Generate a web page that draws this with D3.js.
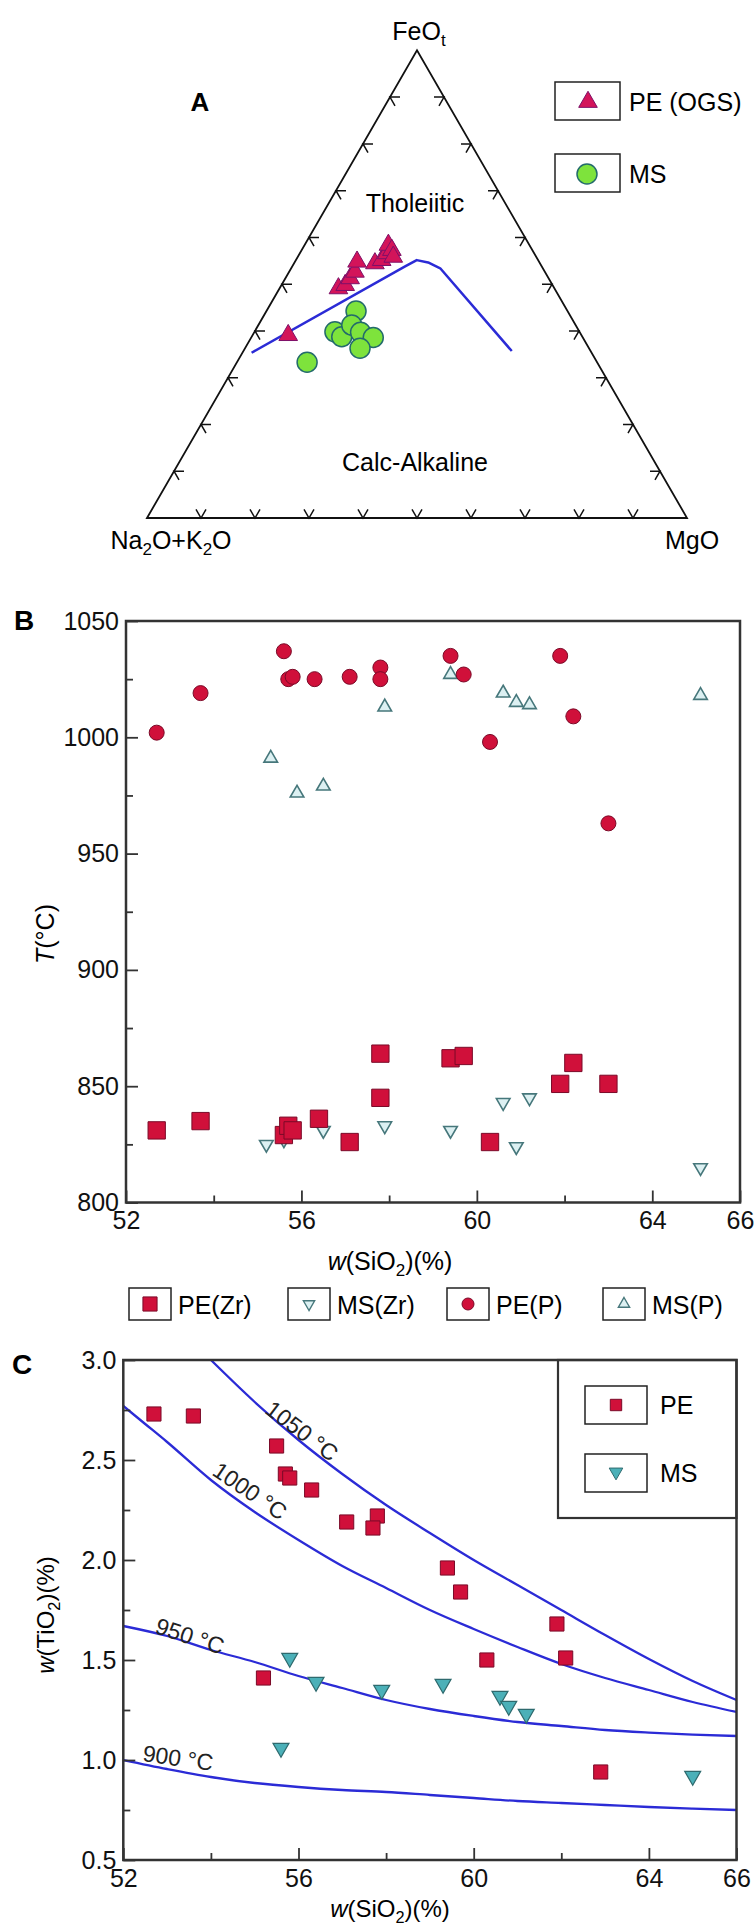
<!DOCTYPE html>
<html>
<head>
<meta charset="utf-8">
<script src="https://cdn.jsdelivr.net/npm/d3@7"></script>
<style>
body { margin: 0; background: #fff; }
svg { display: block; font-family: "Liberation Sans", Arial, sans-serif; }
</style>
</head>
<body>
<div id="app"></div>
<script>
// ---- panel A : AFM ternary, values as [A, F, M] in %
const afmPE = [
	[54.3, 39.1, 6.6], [40.0, 49.1, 10.9], [38.4, 49.8, 11.8], [36.8, 51.3, 12.0],
	[35.2, 52.7, 12.2], [33.7, 54.8, 11.5], [30.6, 54.5, 15.0], [29.0, 55.2, 15.9],
	[27.3, 56.6, 16.1], [26.1, 58.4, 15.5], [26.0, 57.3, 16.7], [26.5, 55.9, 17.7]
];
const afmMS = [
	[39.2, 44.3, 16.6], [45.3, 39.8, 14.9], [44.6, 38.8, 16.7], [41.5, 41.3, 17.3],
	[40.6, 39.7, 19.7], [38.8, 38.6, 22.6], [42.4, 36.3, 21.3], [53.7, 33.3, 13.0]
];
// tholeiitic / calc-alkaline divide
const afmDivide = [[62.9, 35.3, 1.7], [25.3, 53.8, 20.9], [22.5, 55.2, 22.4], [20.6, 54.6, 24.7],
	[19.0, 53.4, 27.6], [14.6, 35.7, 49.7]];

// ---- panel B : T (°C) vs SiO2 (%)
const peZr = [[52.7, 831], [53.7, 835], [55.6, 829], [55.7, 833], [55.8, 831], [56.4, 836], [57.1, 826],
	[57.8, 845], [57.8, 864], [59.4, 862], [59.7, 863], [60.3, 826], [61.9, 851], [62.2, 860], [63.0, 851]];
const msZr = [[55.2, 825], [55.6, 827], [56.5, 831], [57.9, 833], [59.4, 831], [60.6, 843], [60.9, 824],
	[61.2, 845], [65.1, 815]];
const peP = [[52.7, 1002], [53.7, 1019], [55.6, 1037], [55.7, 1025], [55.8, 1026], [56.3, 1025], [57.1, 1026],
	[57.8, 1030], [57.8, 1025], [59.4, 1035], [59.7, 1027], [60.3, 998], [61.9, 1035], [62.2, 1009], [63.0, 963]];
const msP = [[55.3, 991], [55.9, 976], [56.5, 979], [57.9, 1013], [59.4, 1027], [60.6, 1019], [60.9, 1015],
	[61.2, 1014], [65.1, 1018]];
const tTicks = [800, 850, 900, 950, 1000, 1050];
const tMinor = [825, 875, 925, 975, 1025];
const siTicks = [52, 56, 60, 64, 66];
const siMinor = [54, 58, 62];

// ---- panel C : TiO2 vs SiO2 (%)
const tiPE = [[52.7, 2.73], [53.6, 2.72], [55.5, 2.57], [55.7, 2.43], [55.8, 2.41], [56.3, 2.35], [57.1, 2.19],
	[57.8, 2.22], [57.7, 2.16], [59.4, 1.96], [59.7, 1.84], [61.9, 1.68], [60.3, 1.50], [62.1, 1.51],
	[55.2, 1.41], [62.9, 0.94]];
const tiMS = [[55.8, 1.51], [56.4, 1.39], [57.9, 1.35], [59.3, 1.38], [60.6, 1.32], [60.8, 1.27], [61.2, 1.23],
	[55.6, 1.06], [65.0, 0.92]];
const iso1050 = [[54.0, 3.0], [55, 2.79], [56, 2.60], [57, 2.43], [58, 2.275], [59, 2.135], [60, 2.00],
	[61, 1.875], [62, 1.75], [63, 1.625], [64, 1.505], [65, 1.395], [66, 1.30]];
const iso1000 = [[52, 2.77], [52.5, 2.68], [53, 2.59], [54, 2.40], [55, 2.24], [56, 2.10], [57, 1.97],
	[58, 1.86], [59, 1.75], [60, 1.655], [61, 1.565], [62, 1.48], [63, 1.41], [64, 1.35], [65, 1.29], [66, 1.24]];
const iso950 = [[52, 1.67], [53, 1.62], [54, 1.55], [55, 1.49], [56, 1.42], [57, 1.36], [58, 1.30],
	[59, 1.255], [60, 1.22], [61, 1.19], [62, 1.17], [63, 1.15], [64, 1.137], [65, 1.127], [66, 1.12]];
const iso900 = [[52, 1.0], [53, 0.955], [54, 0.915], [55, 0.885], [56, 0.865], [57, 0.85], [58, 0.84],
	[59, 0.825], [60, 0.81], [61, 0.795], [62, 0.785], [63, 0.775], [64, 0.765], [65, 0.757], [66, 0.75]];
const tiTicks = [0.5, 1.0, 1.5, 2.0, 2.5, 3.0];
const tiMinor = [0.75, 1.25, 1.75, 2.25, 2.75];

const RED = '#d0103a', RED_DARK = '#7a0a28',
	BLUE = '#2b2bd6',
	FRAME = '#333';

const svg = d3.select('#app').append('svg')
	.attr('width', 756)
	.attr('height', 1929);

// write text with subscripts: parts = [[text, isSub, isItalic], ...]
function richText (g, x, y, parts, size, anchor) {
	const t = g.append('text')
		.attr('x', x).attr('y', y)
		.attr('font-size', size)
		.attr('text-anchor', anchor || 'middle');
	let sub = false;
	parts.forEach(p => {
		const s = t.append('tspan').text(p[0]);
		if (p[1] && !sub) s.attr('dy', size * 0.25).attr('font-size', size * 0.68);
		else if (!p[1] && sub) s.attr('dy', -size * 0.25);
		else if (p[1]) s.attr('font-size', size * 0.68);
		if (p[2]) s.attr('font-style', 'italic');
		sub = !!p[1];
	});
	return t;
}

/* ---------------- panel A ---------------- */
const gA = svg.append('g');
const triL = 147, triR = 687, triBase = 518;
const triH = (triR - triL) * Math.sqrt(3) / 2;
const tx = d3.scaleLinear().domain([0, 1]).range([triL, triR]);
const ty = d3.scaleLinear().domain([0, 1]).range([triBase, triBase - triH]);
function tern (d) {
	const s = d[0] + d[1] + d[2];
	const f = d[1] / s, m = d[2] / s;
	return [tx(m + f / 2), ty(f)];
}

gA.append('path')
	.attr('d', d3.line()([tern([100, 0, 0]), tern([0, 100, 0]), tern([0, 0, 100])]) + 'Z')
	.attr('fill', 'none')
	.attr('stroke', '#111')
	.attr('stroke-width', 1.8);

// chevron ticks, arms parallel to the other two sides
const TICK = 10;
const c60 = Math.cos(Math.PI / 3), s60 = Math.sin(Math.PI / 3);
const tickSets = [
	{ pt: i => [100 - i, 0, i], arms: [[c60, -s60], [-c60, -s60]] },   // base
	{ pt: i => [100 - i, i, 0], arms: [[1, 0], [c60, s60]] },          // left side
	{ pt: i => [0, i, 100 - i], arms: [[-1, 0], [-c60, s60]] }         // right side
];
tickSets.forEach(ts => {
	d3.range(10, 100, 10).forEach(i => {
		const p = tern(ts.pt(i));
		gA.append('path')
			.attr('d', d3.line()([
				[p[0] + ts.arms[0][0] * TICK, p[1] + ts.arms[0][1] * TICK],
				p,
				[p[0] + ts.arms[1][0] * TICK, p[1] + ts.arms[1][1] * TICK]
			]))
			.attr('fill', 'none')
			.attr('stroke', '#111')
			.attr('stroke-width', 1.5);
	});
});

gA.append('path')
	.attr('d', d3.line()(afmDivide.map(tern)))
	.attr('fill', 'none')
	.attr('stroke', BLUE)
	.attr('stroke-width', 2.5)
	.attr('stroke-linejoin', 'round');

const triSym = d3.symbol(d3.symbolTriangle, 150);
gA.selectAll('.pe').data(afmPE).enter().append('path')
	.attr('d', triSym)
	.attr('transform', d => `translate(${tern(d)})`)
	.attr('fill', '#d3145a')
	.attr('stroke', '#7e1068')
	.attr('stroke-width', 1);

gA.selectAll('.ms').data(afmMS).enter().append('circle')
	.attr('cx', d => tern(d)[0])
	.attr('cy', d => tern(d)[1])
	.attr('r', 10)
	.attr('fill', '#7ee33c')
	.attr('stroke', '#236b6b')
	.attr('stroke-width', 1.5);

richText(gA, 419, 40, [['FeO', 0], ['t', 1]], 25);
richText(gA, 171, 549, [['Na', 0], ['2', 1], ['O+K', 0], ['2', 1], ['O', 0]], 25);
gA.append('text').attr('x', 692).attr('y', 549).attr('font-size', 25).attr('text-anchor', 'middle').text('MgO');
gA.append('text').attr('x', 200).attr('y', 111).attr('font-size', 26).attr('font-weight', 'bold')
	.attr('text-anchor', 'middle').text('A');
gA.append('text').attr('x', 415).attr('y', 212).attr('font-size', 25).attr('text-anchor', 'middle').text('Tholeiitic');
gA.append('text').attr('x', 415).attr('y', 471).attr('font-size', 25).attr('text-anchor', 'middle').text('Calc-Alkaline');

// legend A
[[82, 'PE (OGS)'], [154, 'MS']].forEach((d, i) => {
	gA.append('rect').attr('x', 555).attr('y', d[0]).attr('width', 65).attr('height', 38)
		.attr('fill', '#fff').attr('stroke', '#222').attr('stroke-width', 1.5);
	gA.append('text').attr('x', 629).attr('y', d[0] + 29).attr('font-size', 25).text(d[1]);
	if (i === 0) {
		gA.append('path').attr('d', triSym).attr('transform', `translate(588,${d[0] + 20})`)
			.attr('fill', '#d3145a').attr('stroke', '#7e1068');
	} else {
		gA.append('circle').attr('cx', 587).attr('cy', d[0] + 20).attr('r', 10)
			.attr('fill', '#7ee33c').attr('stroke', '#236b6b').attr('stroke-width', 1.5);
	}
});

/* ---------------- shared axis helper ---------------- */
function frameAxes (g, x, y, yMajor, yMinor, fmtY) {
	const [x0, x1] = x.range();
	const [y0, y1] = y.range();
	g.append('g').attr('transform', `translate(${x0},0)`)
		.call(d3.axisLeft(y).tickValues(yMajor).tickSize(-12).tickPadding(7).tickFormat(fmtY));
	g.append('g').attr('transform', `translate(${x0},0)`)
		.call(d3.axisLeft(y).tickValues(yMinor).tickSize(-7).tickFormat(''));
	g.append('g').attr('transform', `translate(0,${y0})`)
		.call(d3.axisBottom(x).tickValues(siTicks).tickSize(-12).tickPadding(9).tickFormat(d3.format('d')));
	g.append('g').attr('transform', `translate(0,${y0})`)
		.call(d3.axisBottom(x).tickValues(siMinor).tickSize(-7).tickFormat(''));
	g.selectAll('.domain').remove();
	g.selectAll('.tick line').attr('stroke', FRAME).attr('stroke-width', 1.8);
	g.selectAll('.tick text')
		.attr('font-size', 25)
		.attr('font-family', '"Liberation Sans", Arial, sans-serif')
		.attr('fill', '#111');
	g.append('rect')
		.attr('x', x0).attr('y', y1)
		.attr('width', x1 - x0).attr('height', y0 - y1)
		.attr('fill', 'none')
		.attr('stroke', FRAME)
		.attr('stroke-width', 2.5);
}

/* ---------------- panel B ---------------- */
const gB = svg.append('g');
const bx = d3.scaleLinear().domain([52, 66]).range([126, 740]);
const by = d3.scaleLinear().domain([800, 1050]).range([1202.5, 621]);
frameAxes(gB, bx, by, tTicks, tMinor, d3.format('d'));

const upTri = d3.symbol(d3.symbolTriangle, 80);
const downTri = d3.symbol(d3.symbolTriangle, 80);
const sq = d3.symbol(d3.symbolSquare, 300);

gB.selectAll('.mszr').data(msZr).enter().append('path')
	.attr('d', downTri)
	.attr('transform', d => `translate(${bx(d[0])},${by(d[1])}) rotate(180)`)
	.attr('fill', '#dcf0f2').attr('stroke', '#46777b').attr('stroke-width', 1.6);
gB.selectAll('.msp').data(msP).enter().append('path')
	.attr('d', upTri)
	.attr('transform', d => `translate(${bx(d[0])},${by(d[1])})`)
	.attr('fill', '#dcf0f2').attr('stroke', '#46777b').attr('stroke-width', 1.6);
gB.selectAll('.pezr').data(peZr).enter().append('path')
	.attr('d', sq)
	.attr('transform', d => `translate(${bx(d[0])},${by(d[1])})`)
	.attr('fill', RED).attr('stroke', RED_DARK).attr('stroke-width', 1);
gB.selectAll('.pep').data(peP).enter().append('circle')
	.attr('cx', d => bx(d[0])).attr('cy', d => by(d[1])).attr('r', 7.5)
	.attr('fill', RED).attr('stroke', RED_DARK).attr('stroke-width', 1);

gB.append('text').attr('x', 24).attr('y', 630).attr('font-size', 28).attr('font-weight', 'bold')
	.attr('text-anchor', 'middle').text('B');
richText(gB, 0, 0, [['T', 0, 1], ['(°C)', 0]], 25)
	.attr('transform', 'translate(54,934) rotate(-90)');
richText(gB, 390, 1270, [['w', 0, 1], ['(SiO', 0], ['2', 1], [')(%)', 0]], 25);

// legend B
const legB = [
	{ x: 129, label: 'PE(Zr)', kind: 'sq' },
	{ x: 288, label: 'MS(Zr)', kind: 'down' },
	{ x: 447, label: 'PE(P)', kind: 'circ' },
	{ x: 603, label: 'MS(P)', kind: 'up' }
];
legB.forEach(d => {
	gB.append('rect').attr('x', d.x).attr('y', 1288).attr('width', 42).attr('height', 32)
		.attr('fill', '#fff').attr('stroke', '#222').attr('stroke-width', 1.5);
	gB.append('text').attr('x', d.x + 49).attr('y', 1314).attr('font-size', 25).text(d.label);
	const cx = d.x + 21, cy = 1304;
	if (d.kind === 'sq') {
		gB.append('path').attr('d', d3.symbol(d3.symbolSquare, 200))
			.attr('transform', `translate(${cx},${cy})`).attr('fill', RED).attr('stroke', RED_DARK);
	} else if (d.kind === 'circ') {
		gB.append('circle').attr('cx', cx).attr('cy', cy).attr('r', 6).attr('fill', RED).attr('stroke', RED_DARK);
	} else {
		gB.append('path').attr('d', d3.symbol(d3.symbolTriangle, 55))
			.attr('transform', `translate(${cx},${cy})` + (d.kind === 'down' ? ' rotate(180)' : ''))
			.attr('fill', '#dcf0f2').attr('stroke', '#46777b').attr('stroke-width', 1.4);
	}
});

/* ---------------- panel C ---------------- */
const gC = svg.append('g');
const cx = d3.scaleLinear().domain([52, 66]).range([123.3, 736.5]);
const cy = d3.scaleLinear().domain([0.5, 3.0]).range([1860, 1360]);

const defs = svg.append('defs');
defs.append('clipPath').attr('id', 'clipC').append('rect')
	.attr('x', 123.3).attr('y', 1360).attr('width', 736.5 - 123.3).attr('height', 500);

const iso = d3.line().x(d => cx(d[0])).y(d => cy(d[1])).curve(d3.curveMonotoneX);
[iso1050, iso1000, iso950, iso900].forEach(s => {
	gC.append('path')
		.attr('d', iso(s))
		.attr('clip-path', 'url(#clipC)')
		.attr('fill', 'none')
		.attr('stroke', BLUE)
		.attr('stroke-width', 2.3);
});

// legend box first so the frame is drawn over it
gC.append('rect').attr('x', 558).attr('y', 1360).attr('width', 736.5 - 558).attr('height', 158)
	.attr('fill', '#fff').attr('stroke', FRAME).attr('stroke-width', 2.2);

frameAxes(gC, cx, cy, tiTicks, tiMinor, d3.format('.1f'));

gC.selectAll('.tipe').data(tiPE).enter().append('path')
	.attr('d', d3.symbol(d3.symbolSquare, 200))
	.attr('transform', d => `translate(${cx(d[0])},${cy(d[1])})`)
	.attr('fill', RED).attr('stroke', RED_DARK).attr('stroke-width', 1);
gC.selectAll('.tims').data(tiMS).enter().append('path')
	.attr('d', d3.symbol(d3.symbolTriangle, 110))
	.attr('transform', d => `translate(${cx(d[0])},${cy(d[1])}) rotate(180)`)
	.attr('fill', '#4bb0b8').attr('stroke', '#2e6a6e').attr('stroke-width', 1.2);

const isoLabels = [
	{ text: '1050 °C', x: 302, y: 1431, a: 37 },
	{ text: '1000 °C', x: 250, y: 1491, a: 34 },
	{ text: '950 °C', x: 190, y: 1636, a: 18 },
	{ text: '900 °C', x: 178, y: 1758, a: 8 }
];
isoLabels.forEach(d => {
	gC.append('text')
		.attr('transform', `translate(${d.x},${d.y}) rotate(${d.a})`)
		.attr('text-anchor', 'middle')
		.attr('dy', '0.35em')
		.attr('font-size', 23)
		.attr('fill', '#222')
		.text(d.text);
});

// legend C
[[1386, 'PE'], [1454, 'MS']].forEach((d, i) => {
	gC.append('rect').attr('x', 585).attr('y', d[0]).attr('width', 62).attr('height', 38)
		.attr('fill', '#fff').attr('stroke', '#222').attr('stroke-width', 1.5);
	gC.append('text').attr('x', 660).attr('y', d[0] + 28).attr('font-size', 25).text(d[1]);
	if (i === 0) {
		gC.append('path').attr('d', d3.symbol(d3.symbolSquare, 130))
			.attr('transform', `translate(616,${d[0] + 19})`).attr('fill', RED).attr('stroke', RED_DARK);
	} else {
		gC.append('path').attr('d', d3.symbol(d3.symbolTriangle, 80))
			.attr('transform', `translate(616,${d[0] + 18}) rotate(180)`)
			.attr('fill', '#4bb0b8').attr('stroke', '#2e6a6e');
	}
});

gC.append('text').attr('x', 22).attr('y', 1374).attr('font-size', 28).attr('font-weight', 'bold')
	.attr('text-anchor', 'middle').text('C');
richText(gC, 0, 0, [['w', 0, 1], ['(TiO', 0], ['2', 1], [')(%)', 0]], 24)
	.attr('transform', 'translate(54,1615) rotate(-90)');
richText(gC, 390, 1917, [['w', 0, 1], ['(SiO', 0], ['2', 1], [')(%)', 0]], 24);
</script>
</body>
</html>
